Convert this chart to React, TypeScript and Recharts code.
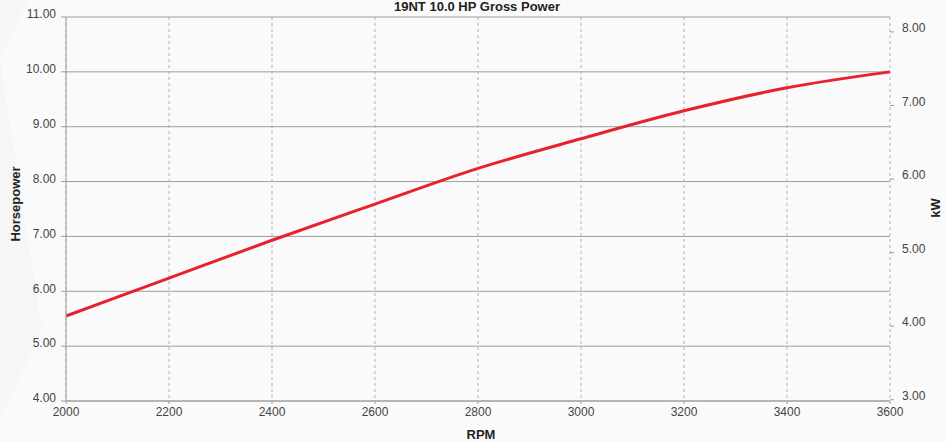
import React from "react"
import {
  LineChart,
  Line,
  XAxis,
  YAxis,
  CartesianGrid
} from "recharts"

// values
const rpm = [2000, 2200, 2400, 2600, 2800, 3000, 3200, 3400, 3600]
const horsepower = [5.55, 6.24, 6.93, 7.59, 8.24, 8.78, 9.29, 9.71, 10.0]

const rpmTicks = [2000, 2200, 2400, 2600, 2800, 3000, 3200, 3400, 3600]
const hpTicks = [4, 5, 6, 7, 8, 9, 10, 11]
const kwTicks = [3, 4, 5, 6, 7, 8]

const HP_TO_KW = 0.7457

const data = rpm.map((r, i) => ({ rpm: r, hp: horsepower[i] }))

const FONT = "'Liberation Sans', Arial, sans-serif"
const tickStyle = { fontSize: 12, fill: "#444", fontFamily: FONT }

export default function App() {
  return (
    <div
      style={{
        position: "absolute",
        left: 0,
        top: 0,
        width: 945,
        height: 442,
        overflow: "hidden",
        background: "#f6f6f6",
        fontFamily: FONT
      }}
    >
      {/* faint chevron in the background */}
      <svg width={945} height={442} style={{ position: "absolute", left: 0, top: 0 }}>
        <polygon points="0,60 28,0 945,0 945,442 0,442 0,420 42,330" fill="#fafafa" />
      </svg>

      {/* title sits right at the top edge */}
      <div
        style={{
          position: "absolute",
          left: 477,
          top: 0,
          transform: "translateX(-50%)",
          fontSize: 13,
          lineHeight: "14px",
          fontWeight: 700,
          color: "#222",
          whiteSpace: "nowrap"
        }}
      >
        19NT 10.0 HP Gross Power
      </div>

      <LineChart
        width={945}
        height={442}
        data={data}
        margin={{ top: 17, right: 10, bottom: 11, left: 16 }}
        style={{ position: "absolute", left: 0, top: 0 }}
      >
        <CartesianGrid horizontal={true} vertical={false} stroke="#9e9e9e" />
        <CartesianGrid horizontal={false} vertical={true} stroke="#b0b0b0" strokeDasharray="3 3" />

        <XAxis
          dataKey="rpm"
          type="number"
          domain={[2000, 3600]}
          ticks={rpmTicks}
          height={30}
          tick={tickStyle}
          tickSize={3}
          tickMargin={3}
          stroke="#9e9e9e"
          interval={0}
        />

        <YAxis
          type="number"
          domain={[4, 11]}
          ticks={hpTicks}
          width={50}
          tick={{ ...tickStyle, dy: -3 }}
          tickFormatter={(v) => Number(v).toFixed(2)}
          tickSize={5}
          tickMargin={5}
          stroke="#9e9e9e"
          interval={0}
        />

        <YAxis
          yAxisId="kw"
          orientation="right"
          type="number"
          domain={[4 * HP_TO_KW, 11 * HP_TO_KW]}
          allowDataOverflow
          ticks={kwTicks}
          width={45}
          tick={{ ...tickStyle, dy: -4, textAnchor: "start" }}
          tickFormatter={(v) => Number(v).toFixed(2)}
          tickSize={4}
          tickMargin={8}
          axisLine={false}
          stroke="#9e9e9e"
          interval={0}
        />

        <Line
          type="monotone"
          dataKey="hp"
          stroke="#e8212b"
          strokeWidth={3}
          dot={false}
          isAnimationActive={false}
        />
      </LineChart>

      <div
        style={{
          position: "absolute",
          left: 15,
          top: 204,
          transform: "translate(-50%, -50%) rotate(-90deg)",
          fontSize: 13,
          fontWeight: 700,
          color: "#222",
          whiteSpace: "nowrap"
        }}
      >
        Horsepower
      </div>

      <div
        style={{
          position: "absolute",
          left: 935,
          top: 208,
          transform: "translate(-50%, -50%) rotate(-90deg)",
          fontSize: 13,
          fontWeight: 700,
          color: "#222",
          whiteSpace: "nowrap"
        }}
      >
        kW
      </div>

      <div
        style={{
          position: "absolute",
          left: 481,
          top: 434,
          transform: "translate(-50%, -50%)",
          fontSize: 13,
          fontWeight: 700,
          color: "#222",
          whiteSpace: "nowrap"
        }}
      >
        RPM
      </div>
    </div>
  )
}
